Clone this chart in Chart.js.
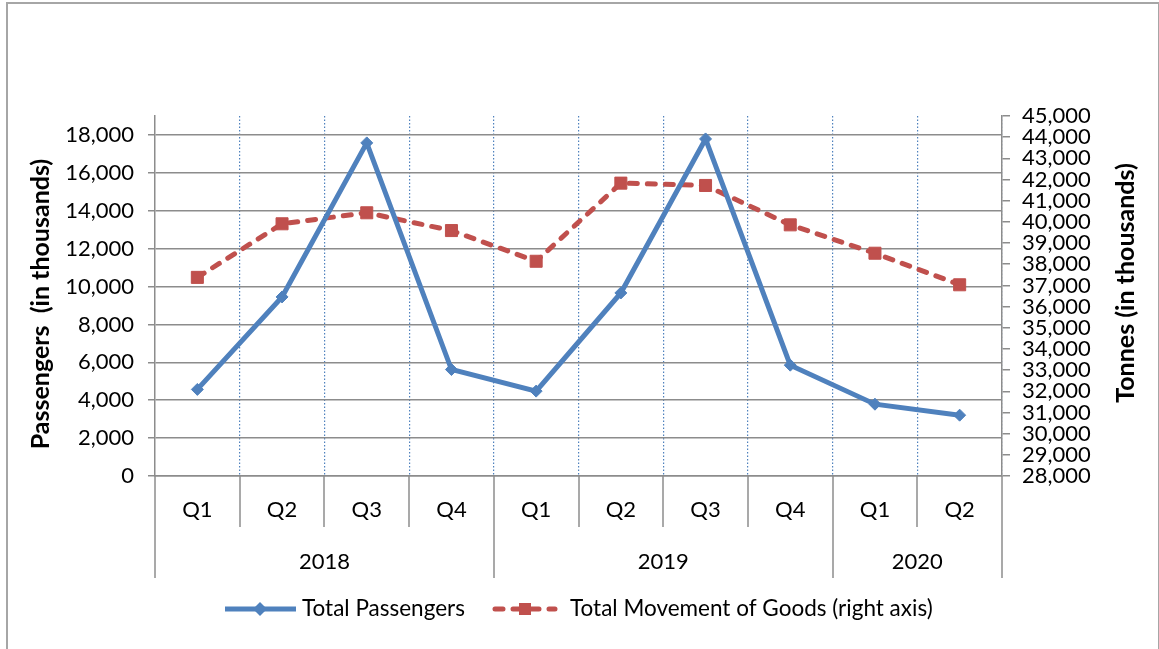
<!DOCTYPE html>
<html>
<head>
<meta charset="utf-8">
<script src="https://cdn.jsdelivr.net/npm/chart.js@4.4.1/dist/chart.umd.min.js"></script>
<style>
  body { margin: 0; background: #fff; }
  #wrap { position: relative; width: 1159px; height: 649px; overflow: hidden; }
  #frame { position: absolute; left: 6px; top: 2px; width: 1150px; height: 700px;
           border: 2px solid #a6a6a6; border-bottom: none; pointer-events: none; }
  canvas { position: absolute; left: 0; top: 0; }
</style>
</head>
<body>
<div id="wrap">
  <canvas id="myChart" width="1159" height="649"></canvas>
  <div id="frame"></div>
</div>
<script>
// data
var quarters = ['Q1', 'Q2', 'Q3', 'Q4', 'Q1', 'Q2', 'Q3', 'Q4', 'Q1', 'Q2'];
var years = ['2018', '2019', '2020'];
var yearSpans = [[0, 3], [4, 7], [8, 9]];
var passengers = [4570, 9450, 17580, 5620, 4480, 9660, 17790, 5850, 3790, 3210];
var goods = [37380, 39910, 40430, 39590, 38140, 41830, 41720, 39860, 38520, 37030];
var leftTicks = [0, 2000, 4000, 6000, 8000, 10000, 12000, 14000, 16000, 18000];
var rightTicks = [28000, 29000, 30000, 31000, 32000, 33000, 34000, 35000, 36000,
                  37000, 38000, 39000, 40000, 41000, 42000, 43000, 44000, 45000];

var BLUE = '#4f81bd';
var RED = '#c0504d';
var AXIS = '#8c8c8c';
var FONT = 'Lato';

function toTicks(arr) {
    return arr.map(function (v) { return { value: v }; });
}

// extra drawing: two level category axis, titles and legend
var extras = {
    id: 'extras',
    afterDraw: function (chart) {
        var ctx = chart.ctx;
        var x = chart.scales.x;
        var bottom = chart.chartArea.bottom;
        ctx.save();
        ctx.strokeStyle = AXIS;
        ctx.lineWidth = 1.5;
        var yearEdges = [0, 4, 8, 10];
        for (var i = 0; i <= quarters.length; i++) {
            var px = Math.round(x.getPixelForValue(i - 0.5));
            var len = yearEdges.indexOf(i) >= 0 ? 102 : 51;
            ctx.beginPath();
            ctx.moveTo(px, bottom);
            ctx.lineTo(px, bottom + len);
            ctx.stroke();
        }
        ctx.fillStyle = '#000';
        ctx.font = '22px ' + FONT;
        ctx.textAlign = 'center';
        ctx.textBaseline = 'middle';
        for (var j = 0; j < years.length; j++) {
            var mid = (yearSpans[j][0] + yearSpans[j][1]) / 2;
            ctx.fillText(years[j], x.getPixelForValue(mid), bottom + 86);
        }

        // axis titles
        ctx.font = 'bold 25px ' + FONT;
        ctx.save();
        ctx.translate(41, 304);
        ctx.rotate(-Math.PI / 2);
        ctx.fillText('Passengers  (in thousands)', 0, 0);
        ctx.restore();
        ctx.save();
        ctx.translate(1126, 283);
        ctx.rotate(-Math.PI / 2);
        ctx.fillText('Tonnes (in thousands)', 0, 0);
        ctx.restore();

        // legend
        var ly = 609;
        ctx.lineWidth = 5;
        ctx.strokeStyle = BLUE;
        ctx.beginPath();
        ctx.moveTo(225, ly);
        ctx.lineTo(296, ly);
        ctx.stroke();
        ctx.fillStyle = BLUE;
        ctx.beginPath();
        ctx.moveTo(260, ly - 7);
        ctx.lineTo(267, ly);
        ctx.lineTo(260, ly + 7);
        ctx.lineTo(253, ly);
        ctx.closePath();
        ctx.fill();

        ctx.strokeStyle = RED;
        ctx.lineCap = 'round';
        ctx.setLineDash([8, 10]);
        ctx.beginPath();
        ctx.moveTo(495, ly);
        ctx.lineTo(555, ly);
        ctx.stroke();
        ctx.setLineDash([]);
        ctx.fillStyle = RED;
        ctx.fillRect(519, ly - 6, 12, 12);

        ctx.fillStyle = '#000';
        ctx.font = '22.5px ' + FONT;
        ctx.textAlign = 'left';
        ctx.fillText('Total Passengers', 302, ly);
        ctx.fillText('Total Movement of Goods (right axis)', 570, ly);
        ctx.restore();
    }
};

var ctx = document.getElementById('myChart');
var myChart = new Chart(ctx, {
    type: 'line',
    data: {
        labels: quarters,
        datasets: [{
            label: 'Total Passengers',
            data: passengers,
            yAxisID: 'y',
            borderColor: BLUE,
            backgroundColor: BLUE,
            borderWidth: 5,
            pointStyle: 'rectRot',
            pointRadius: 6,
            pointBorderWidth: 1,
            tension: 0
        }, {
            label: 'Total Movement of Goods (right axis)',
            data: goods,
            yAxisID: 'y1',
            borderColor: RED,
            backgroundColor: RED,
            borderWidth: 5,
            borderDash: [8, 10],
            borderCapStyle: 'round',
            pointStyle: 'rect',
            pointRadius: 8.5,
            pointBorderWidth: 1,
            tension: 0
        }]
    },
    options: {
        responsive: false,
        devicePixelRatio: 1,
        animation: false,
        layout: { padding: { top: 116, left: 0, right: 0, bottom: 71 } },
        plugins: {
            legend: { display: false },
            tooltip: { enabled: false }
        },
        scales: {
            x: {
                offset: true,
                grid: {
                    offset: true,
                    drawTicks: false,
                    lineWidth: 1.2,
                    color: function (c) {
                        return (c.index === 0 || c.index === quarters.length) ? 'rgba(0,0,0,0)' : BLUE;
                    }
                },
                border: { color: AXIS, width: 1.5, dash: [1.5, 2] },
                ticks: { color: '#000', font: { family: FONT, size: 22 }, padding: 21, maxRotation: 0 },
                afterFit: function (s) { s.height = 102; }
            },
            y: {
                position: 'left',
                min: 0,
                max: 19000,
                grid: { color: AXIS, lineWidth: 1.5, tickLength: 7 },
                border: { color: AXIS, width: 1.5 },
                ticks: {
                    color: '#000',
                    padding: 14,
                    font: { family: FONT, size: 22 },
                    callback: function (v) { return v.toLocaleString('en-US'); }
                },
                afterBuildTicks: function (s) { s.ticks = toTicks(leftTicks); },
                afterFit: function (s) { s.width = 155; }
            },
            y1: {
                position: 'right',
                min: 28000,
                max: 45000,
                grid: { drawOnChartArea: false, color: AXIS, lineWidth: 1.5, tickLength: 8 },
                border: { color: AXIS, width: 1.5 },
                ticks: {
                    autoSkip: false,
                    color: '#000',
                    padding: 12,
                    font: { family: FONT, size: 22 },
                    callback: function (v) { return v.toLocaleString('en-US'); }
                },
                afterBuildTicks: function (s) { s.ticks = toTicks(rightTicks); },
                afterFit: function (s) { s.width = 157; }
            }
        }
    },
    plugins: [extras]
});
</script>
</body>
</html>
